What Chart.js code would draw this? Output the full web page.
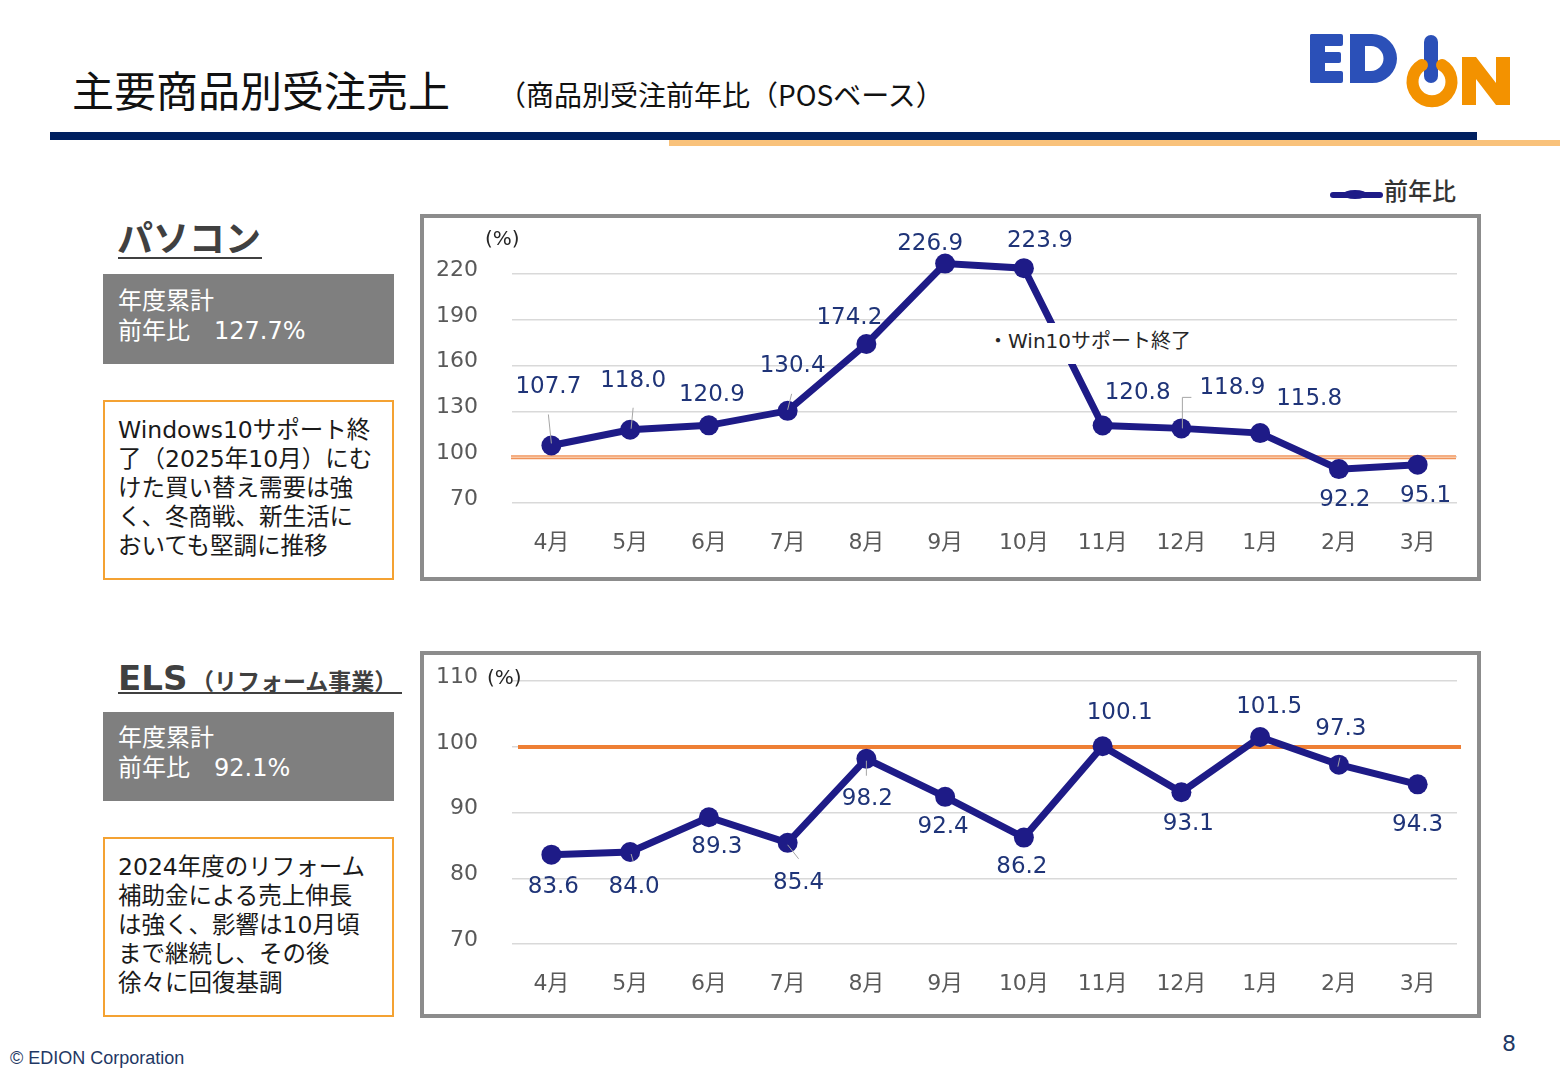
<!DOCTYPE html>
<html lang="ja">
<head>
<meta charset="utf-8">
<script src="https://cdn.jsdelivr.net/npm/chart.js@4.4.1/dist/chart.umd.min.js"></script>
<style>
  html, body { margin:0; padding:0; background:#fff; }
  body { width:1560px; height:1080px; position:relative; overflow:hidden;
         font-family:"DejaVu Sans","Noto Sans CJK JP",sans-serif; }
  .abs { position:absolute; }
  .jp { font-family:"Noto Sans CJK JP",sans-serif; }
  .box { position:absolute; box-sizing:border-box; border:4px solid #8c8c8c; background:#fff; }
  .cv { position:absolute; }
  .gray { position:absolute; background:#7f7f7f; color:#fff; font-size:24px; line-height:30px;
          box-sizing:border-box; padding:12px 0 0 15px; }
  .note { position:absolute; box-sizing:border-box; border:2px solid #f4a232; color:#1a1a1a;
          font-size:23.5px; line-height:29px; padding:14px 0 0 13px; white-space:nowrap; }
  .pct { position:absolute; font-size:20px; color:#262626; line-height:20px; }
</style>
</head>
<body>
<!-- header -->
<div class="abs jp" style="left:72px;top:64px;font-size:42px;line-height:50px;color:#111;">主要商品別受注売上</div>
<div class="abs jp" style="left:498px;top:77px;font-size:28px;line-height:34px;color:#111;">（商品別受注前年比（POSベース）</div>
<div class="abs" style="left:50px;top:132px;width:1427px;height:8px;background:#002060;"></div>
<div class="abs" style="left:669px;top:140px;width:891px;height:6px;background:#f9c27b;"></div>

<!-- logo -->
<svg class="abs" style="left:0;top:0;" width="1560" height="130" viewBox="0 0 1560 130">
  <g fill="#2b50b8">
    <rect x="1310" y="34" width="15" height="49" rx="2"/>
    <rect x="1310" y="34" width="33" height="12" rx="2"/>
    <rect x="1310" y="52" width="31" height="11" rx="2"/>
    <rect x="1310" y="71" width="33" height="12" rx="2"/>
    <path fill-rule="evenodd" d="M1350,34 h22 a25,24.5 0 0 1 0,49 h-22 z M1365,46 h6 a12.5,12.5 0 0 1 0,25 h-6 z"/>
    <rect x="1424" y="35" width="14" height="48" rx="7"/>
  </g>
  <path d="M1442,65 A19.5,19.5 0 1 1 1422,65" fill="none" stroke="#f39200" stroke-width="12" stroke-linecap="round"/>
  <path fill="#f39200" d="M1462,57 h14 l20,26 v-26 h14 v48 h-14 l-20,-26 v26 h-14 z"/>
</svg>

<!-- legend -->
<div class="abs" style="left:1330px;top:192px;width:53px;height:6px;background:#1e1b87;border-radius:3px;"></div>
<div class="abs" style="left:1343px;top:190px;width:24px;height:9px;background:#1e1b87;border-radius:50%;"></div>
<div class="abs jp" style="left:1384px;top:175px;font-size:24px;line-height:30px;color:#333;font-weight:500;">前年比</div>

<!-- left panel PC -->
<div class="abs jp" style="left:117px;top:214px;font-size:36px;line-height:44px;font-weight:700;color:#404040;">パソコン</div>
<div class="abs" style="left:118px;top:257px;width:144px;height:2px;background:#404040;"></div>
<div class="gray" style="left:103px;top:274px;width:291px;height:90px;">年度累計<br>前年比　127.7%</div>
<div class="note" style="left:103px;top:400px;width:291px;height:180px;">Windows10サポート終<br>了（2025年10月）にむ<br>けた買い替え需要は強<br>く、冬商戦、新生活に<br>おいても堅調に推移</div>

<!-- left panel ELS -->
<div class="abs" style="left:118px;top:656px;font-size:34px;line-height:44px;font-weight:700;color:#404040;font-family:'DejaVu Sans',sans-serif;">ELS</div>
<div class="abs jp" style="left:191px;top:663px;font-size:23px;line-height:34px;font-weight:700;color:#404040;">（リフォーム事業）</div>
<div class="abs" style="left:118px;top:692px;width:284px;height:2px;background:#404040;"></div>
<div class="gray" style="left:103px;top:712px;width:291px;height:89px;padding-top:11px;">年度累計<br>前年比　92.1%</div>
<div class="note" style="left:103px;top:837px;width:291px;height:180px;">2024年度のリフォーム<br>補助金による売上伸長<br>は強く、影響は10月頃<br>まで継続し、その後<br>徐々に回復基調</div>

<!-- chart boxes -->
<div class="box" style="left:420px;top:214px;width:1061px;height:367px;"></div>
<div class="box" style="left:420px;top:651px;width:1061px;height:367px;"></div>
<div class="cv" style="left:424px;top:204px;width:1053px;height:373px;"><canvas id="pc"></canvas></div>
<div class="cv" style="left:424px;top:634px;width:1053px;height:380px;"><canvas id="els"></canvas></div>
<div class="pct" style="left:485px;top:228px;">(%)</div>
<div class="pct" style="left:487px;top:667px;">(%)</div>
<div class="abs jp" style="left:977px;top:323px;width:233px;height:41px;background:#fff;"></div>
<div class="abs jp" style="left:988px;top:325px;font-size:20px;line-height:30px;color:#262626;white-space:nowrap;">・<span style="font-family:'DejaVu Sans',sans-serif;">Win10</span>サポート終了</div>

<!-- footer -->
<div class="abs" style="left:10px;top:1047px;font-size:18px;line-height:22px;color:#1f3864;font-family:'Liberation Sans',Arial,sans-serif;">© EDION Corporation</div>
<div class="abs" style="left:1502px;top:1031px;font-size:22px;line-height:26px;color:#203864;font-family:'DejaVu Sans',sans-serif;">8</div>

<script>
// ---- data ----
const months = ['4月','5月','6月','7月','8月','9月','10月','11月','12月','1月','2月','3月'];
const pcValues  = [107.7, 118.0, 120.9, 130.4, 174.2, 226.9, 223.9, 120.8, 118.9, 115.8, 92.2, 95.1];
const elsValues = [83.6, 84.0, 89.3, 85.4, 98.2, 92.4, 86.2, 100.1, 93.1, 101.5, 97.3, 94.3];
const pcTicks  = [70, 100, 130, 160, 190, 220];
const elsTicks = [70, 80, 90, 100, 110];
const seriesName = '前年比';
const baseline = 100;

// ---- label placement (style only) ----
const pcLabelOffsets = [[-3,-58],[3,-49],[3,-30],[5,-45],[-17,-26],[-15,-20],[16,-27],[35,-32],[51,-40],[49,-34],[6,31],[8,31]];
const pcLeaders = {0:[[-3,-31,0,-2]], 1:[[3,-22,1,-1]], 3:[[4,-17,0,-1]], 8:[[1,-31,1,0],[1,-31,10,-31]]};
const elsLabelOffsets = [[2,32],[4,35],[8,30],[11,40],[1,40],[-2,30],[-2,29],[17,-33],[7,32],[9,-30],[2,-36],[0,41]];
const elsLeaders = {1:[[1,2,3,9]], 3:[[0,2,11,16]], 4:[[0,2,0,17]], 10:[[1,-7,-1,2]]};

const NAVY = '#1e1b87';
const LABEL = '#1f3478';
const FONT = '"DejaVu Sans","Noto Sans CJK JP",sans-serif';

const overlay = {
  id: 'overlay',
  beforeDatasetsDraw(chart, args, o) {
    const {ctx, chartArea} = chart;
    const y = chart.scales.y.getPixelForValue(o.refValue);
    ctx.save();
    ctx.beginPath();
    ctx.moveTo(chartArea.left + o.refLeft, y);
    ctx.lineTo(chartArea.right + o.refRight, y);
    ctx.strokeStyle = o.refColor; ctx.lineWidth = 4; ctx.stroke();
    if (o.refInner) {
      ctx.beginPath();
      ctx.moveTo(chartArea.left + o.refLeft, y);
      ctx.lineTo(chartArea.right + o.refRight, y);
      ctx.strokeStyle = o.refInner; ctx.lineWidth = 1.5; ctx.stroke();
    }
    ctx.restore();
  },
  afterDatasetsDraw(chart, args, o) {
    const {ctx} = chart;
    const meta = chart.getDatasetMeta(0);
    const vals = chart.data.datasets[0].data;
    ctx.save();
    ctx.strokeStyle = '#a6a6a6'; ctx.lineWidth = 1;
    Object.keys(o.leaders).forEach(k => {
      const p = meta.data[k];
      o.leaders[k].forEach(s => {
        ctx.beginPath(); ctx.moveTo(p.x + s[0], p.y + s[1]); ctx.lineTo(p.x + s[2], p.y + s[3]); ctx.stroke();
      });
    });
    ctx.fillStyle = LABEL;
    ctx.font = '23px ' + FONT;
    ctx.textAlign = 'center'; ctx.textBaseline = 'middle';
    meta.data.forEach((p, i) => {
      const off = o.offsets[i];
      ctx.fillText(vals[i].toFixed(1), p.x + off[0], p.y + off[1]);
    });
    ctx.restore();
  }
};

function makeChart(id, values, ticks, yMin, yMax, xAxisH, ov) {
  return new Chart(document.getElementById(id), {
    type: 'line',
    data: { labels: months, datasets: [{
      label: seriesName, data: values, borderColor: NAVY, backgroundColor: NAVY,
      borderWidth: 7, pointRadius: 10, pointHoverRadius: 10, pointBorderWidth: 0,
      pointBackgroundColor: NAVY, tension: 0, clip: false
    }]},
    options: {
      responsive: true, maintainAspectRatio: false, animation: false, devicePixelRatio: 1,
      layout: { padding: { top: 0, right: 20, left: 0, bottom: 0 } },
      events: [],
      plugins: { legend: { display: false }, tooltip: { enabled: false }, overlay: ov },
      scales: {
        x: {
          offset: true,
          grid: { display: false, drawTicks: false }, border: { display: false },
          ticks: { color: '#595959', font: { size: 22, family: FONT }, padding: 27, maxRotation: 0, autoSkip: false },
          afterFit(s) { s.height = xAxisH; }
        },
        y: {
          min: yMin, max: yMax,
          afterBuildTicks(s) { s.ticks = ticks.map(v => ({ value: v })); },
          grid: { color: '#d9d9d9', lineWidth: 1.5, drawTicks: false }, border: { display: false },
          ticks: { color: '#595959', font: { size: 22, family: FONT }, padding: 34, labelOffset: -4 },
          afterFit(s) { s.width = 88; }
        }
      }
    },
    plugins: [overlay]
  });
}

makeChart('pc', pcValues, pcTicks, 70, 235, 74, {
  refValue: baseline, refLeft: -1, refRight: -1, refColor: '#f0935a', refInner: '#f8c9a8',
  offsets: pcLabelOffsets, leaders: pcLeaders
});
makeChart('els', elsValues, elsTicks, 70, 110, 70, {
  refValue: baseline, refLeft: 6, refRight: 4, refColor: '#ee7f35', refInner: null,
  offsets: elsLabelOffsets, leaders: elsLeaders
});
</script>
</body>
</html>
